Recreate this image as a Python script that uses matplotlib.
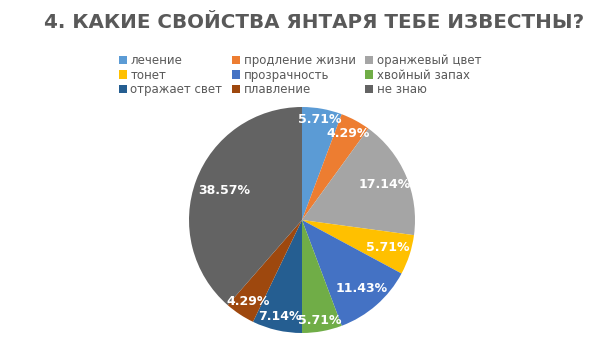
import numpy as np
import matplotlib
matplotlib.use("Agg")
import matplotlib.pyplot as plt
from matplotlib.patches import Patch

plt.rcParams['font.family'] = ['DejaVu Sans']

labels = ["лечение", "продление жизни", "оранжевый цвет", "тонет", "прозрачность",
          "хвойный запах", "отражает свет", "плавление", "не знаю"]
shares = [5.71, 4.29, 17.14, 5.71, 11.43, 5.71, 7.14, 4.29, 38.57]
colors = ["#5B9BD5", "#ED7D31", "#A5A5A5", "#FFC000", "#4472C4",
          "#70AD47", "#255E91", "#9E480E", "#636363"]
# distance of each percent label from the centre (fraction of radius)
label_r = [0.90, 0.87, 0.80, 0.80, 0.80, 0.90, 0.88, 0.86, 0.74]

fig = plt.figure(figsize=(6.05, 3.4), dpi=100)
W, H = 605, 340
cx, cy, r = 302, 220, 113
ax = fig.add_axes([(cx - r) / W, (H - cy - r) / H, 2 * r / W, 2 * r / H])

wedges, _ = ax.pie(shares, colors=colors, startangle=90, counterclock=False,
                   wedgeprops=dict(linewidth=0))
ax.set_aspect('equal')
ax.set_xlim(-1, 1)
ax.set_ylim(-1, 1)

for w, v, lr in zip(wedges, shares, label_r):
    ang = np.deg2rad((w.theta1 + w.theta2) / 2)
    ax.text(lr * np.cos(ang), lr * np.sin(ang), f"{v:.2f}%", color="white",
            fontsize=9, fontweight="bold", ha="center", va="center")

fig.text(314 / W, 1 - 22 / H, "4. КАКИЕ СВОЙСТВА ЯНТАРЯ ТЕБЕ ИЗВЕСТНЫ?", ha="center",
         va="center", fontsize=14.3, fontweight="bold", color="#595959")

# legend is filled column by column, so reorder to read row by row
handles = [Patch(facecolor=c, label=l) for c, l in zip(colors, labels)]
order = [0, 3, 6, 1, 4, 7, 2, 5, 8]
fig.legend(handles=[handles[i] for i in order], ncol=3, loc="upper center",
           bbox_to_anchor=(300 / W, 1 - 48 / H),
           frameon=False, fontsize=8.5, labelcolor="#595959", handlelength=0.7,
           handleheight=0.7, handletextpad=0.3, columnspacing=0.8, labelspacing=0.15,
           borderpad=0)

fig.savefig("out.png", dpi=100)
